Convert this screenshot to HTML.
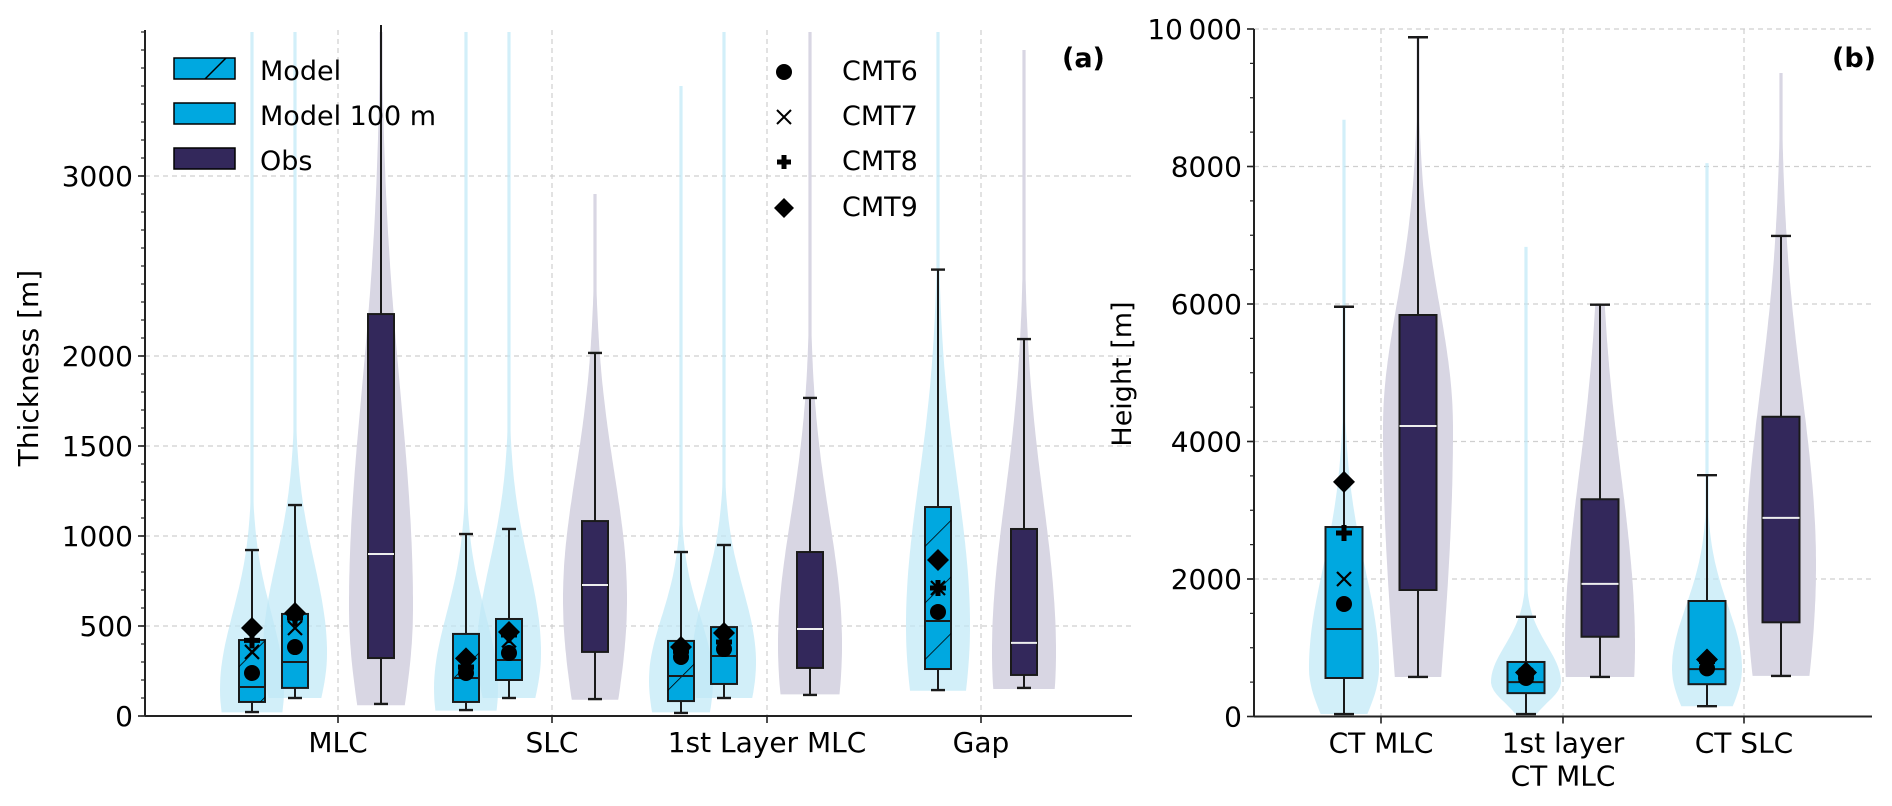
<!DOCTYPE html>
<html><head><meta charset="utf-8"><style>
html,body{margin:0;padding:0;background:#fff}
svg{display:block;font-family:"DejaVu Sans","Liberation Sans",sans-serif}
</style></head><body>
<svg id="chart" width="1892" height="806" viewBox="0 0 1892 806" xmlns="http://www.w3.org/2000/svg">
<defs>
<pattern id="hatch" patternUnits="userSpaceOnUse" width="40" height="40" patternTransform="rotate(45)">
<line x1="0" y1="0" x2="0" y2="40" stroke="#000" stroke-width="1.6"/>
</pattern>
</defs>
<g id="gridA"></g>
<g id="gridB"></g>
<g id="plotA"></g>
<g id="plotB"></g>
<g id="axes"></g>
<text x="38" y="368" font-size="28" text-anchor="middle" transform="rotate(-90 38 368)">Thickness [m]</text>
<text x="1131" y="374" font-size="27" text-anchor="middle" transform="rotate(-90 1131 374)">Height [m]</text>
<text x="1062" y="67" font-size="27" font-weight="bold">(a)</text>
<text x="1832" y="67" font-size="27" font-weight="bold">(b)</text>
<g font-size="27">
<g><rect x="174" y="58" width="61" height="21" fill="#00a8e0" stroke="#000" stroke-width="1.5"/><line x1="205" y1="79" x2="226" y2="58" stroke="#000" stroke-width="1.5"/><text x="260" y="80">Model</text></g>
<g><rect x="174" y="103" width="61" height="21" fill="#00a8e0" stroke="#000" stroke-width="1.5"/><text x="260" y="125">Model 100 m</text></g>
<g><rect x="174" y="148" width="61" height="21" fill="#33285b" stroke="#000" stroke-width="1.5"/><text x="260" y="170">Obs</text></g>
<g><circle cx="784" cy="72" r="8"/><text x="842" y="80">CMT6</text></g>
<g><path d="M777 110 L791 124 M791 110 L777 124" stroke="#000" stroke-width="2"/><text x="842" y="125">CMT7</text></g>
<g><path d="M784 155 V169 M777 162 H791" stroke="#000" stroke-width="5"/><text x="842" y="170">CMT8</text></g>
<g><path d="M784 198 L794 208 L784 218 L774 208 Z"/><text x="842" y="216">CMT9</text></g>
</g>
</svg>
<script>
// ---------- Panel (a) data ----------
const aCategories = ["MLC","SLC","1st Layer MLC","Gap"];
const aYTicks = [0,500,1000,1500,2000,3000];
const aBoxGroup = [0,0,0,1,1,1,2,2,2,3,3];
const aBoxSeries = ["model","m100","obs","model","m100","obs","model","m100","obs","model","obs"];
const aBoxSlot = [-2,-1,1,-2,-1,1,-2,-1,1,-1,1];
const aLo  = [22,100,67,33,100,94,17,100,117,144,156];
const aQ1  = [78,156,322,78,200,356,83,178,267,261,228];
const aMed = [161,300,900,211,311,728,222,333,483,528,406];
const aQ3  = [422,567,2233,456,539,1083,417,494,911,1161,1039];
const aHi  = [922,1172,4200,1011,1039,2017,911,950,1767,2480,2094];
const aVMin = [20,100,60,30,100,90,20,100,120,140,150];
const aVMax = [3800,3800,3800,3800,3800,2900,3500,3800,3800,3800,3700];
const aVPeak = [150,350,600,150,350,650,200,300,400,500,350];
const aVSdLow = [400,400,700,400,400,700,400,400,700,700,700];
const aVSdHigh = [420,500,1200,420,500,700,350,400,700,800,850];
const aCmt6 = [239,383,null,239,350,null,328,372,null,578,null];
const aCmt7 = [356,489,null,290,420,null,350,420,null,711,null];
const aCmt8 = [420,544,null,272,450,null,360,411,null,711,null];
const aCmt9 = [489,572,null,320,467,null,383,461,null,867,null];
// ---------- Panel (b) data ----------
const bCategories = [["CT MLC"],["1st layer","CT MLC"],["CT SLC"]];
const bYTicks = [0,2000,4000,6000,8000,10000];
const bYTickLabels = ["0","2000","4000","6000","8000","10\u2009000"];
const bBoxGroup = [0,0,1,1,2,2];
const bBoxSeries = ["m100","obs","m100","obs","m100","obs"];
const bBoxSlot = [-1,1,-1,1,-1,1];
const bLo  = [36,575,36,575,150,590];
const bQ1  = [560,1840,340,1160,470,1370];
const bMed = [1273,4225,500,1930,690,2890];
const bQ3  = [2756,5840,793,3160,1680,4360];
const bHi  = [5960,9880,1450,5990,3510,6990];
const bVMin = [36,575,36,575,150,590];
const bVMax = [8680,9900,6830,6000,8050,9360];
const bVPeak = [700,4200,500,1000,700,2200];
const bVSdLow = [740,4000,300,2000,700,2500];
const bVSdHigh = [1450,1800,530,2500,900,2500];
const bCmt6 = [1636,null,560,null,700,null];
const bCmt7 = [2000,null,600,null,780,null];
const bCmt8 = [2670,null,620,null,800,null];
const bCmt9 = [3412,null,640,null,830,null];

const NS="http://www.w3.org/2000/svg";
function mk(tag, attrs, parent){const e=document.createElementNS(NS,tag);for(const k in attrs)e.setAttribute(k,attrs[k]);parent.appendChild(e);return e;}

const A={x0:145,x1:1132,y0:716,ticks:[338,552,767,981],slot:43,bw:26,cap:14,W:32,ys:v=>716-0.18*v,vmax:3811};
const B={x0:1254,x1:1872,y0:716.5,ticks:[1381,1563,1744],slot:37,bw:37,cap:20,W:35,ys:v=>716.5-0.06875*v,vmax:10000};
const axes=document.getElementById('axes');

function drawGrid(P,g,yt){
  yt.forEach(v=>{ if(v===0) return;
    const l=mk('line',{x1:P.x0,x2:P.x1,y1:P.ys(v),y2:P.ys(v),stroke:'#cfcfcf','stroke-width':1.2,'stroke-dasharray':'5,4'},g);
    
    
  });
  P.ticks.forEach(x=>{
    const l=mk('line',{x1:x,x2:x,y1:P.ys(P.vmax),y2:P.y0,stroke:'#cfcfcf','stroke-width':1.2,'stroke-dasharray':'5,4'},g);
    
    
  });
}
drawGrid(A,document.getElementById('gridA'),aYTicks);
drawGrid(B,document.getElementById('gridB'),bYTicks);

function violinPath(P,cx,vmin,vmax,peak,sl,sh){
  const n=120, L=[], R=[];
  for(let i=0;i<=n;i++){
    const v=vmin+(vmax-vmin)*i/n;
    const sd=v<peak?sl:sh;
    let w=P.W*Math.exp(-0.5*Math.pow((v-peak)/sd,2));
    if(w<1.6) w=1.6;
    const y=P.ys(Math.min(v,P.vmax));
    R.push((cx+w).toFixed(1)+','+y.toFixed(1));
    L.unshift((cx-w).toFixed(1)+','+y.toFixed(1));
  }
  return 'M'+R.join(' L')+' L'+L.join(' L')+'Z';
}

function drawPanel(P,g,d){
  const n=d.lo.length;
  for(let i=0;i<n;i++){
    const cx=P.ticks[d.group[i]]+d.slot[i]*P.slot;
    const obs=d.series[i]==='obs';
    const p=mk('path',{d:violinPath(P,cx,d.vmin[i],d.vmax[i],d.peak[i],d.sl[i],d.sh[i]),fill:obs?'#d8d6e3':'#bfe8f7','fill-opacity':obs?1:0.7},g);
    
    
  }
  for(let i=0;i<n;i++){
    const cx=P.ticks[d.group[i]]+d.slot[i]*P.slot;
    const obs=d.series[i]==='obs';
    const top=Math.max(P.ys(d.hi[i]),P.ys(P.vmax)-5);
    const w=mk('line',{x1:cx,x2:cx,y1:top,y2:P.ys(d.lo[i]),stroke:'#1a1a1a','stroke-width':2},g);
    
    
    if(d.hi[i]<P.vmax){
      const c1=mk('line',{x1:cx-P.cap/2,x2:cx+P.cap/2,y1:P.ys(d.hi[i]),y2:P.ys(d.hi[i]),stroke:'#1a1a1a','stroke-width':2.4},g);
      
      
    }
    const c2=mk('line',{x1:cx-P.cap/2,x2:cx+P.cap/2,y1:P.ys(d.lo[i]),y2:P.ys(d.lo[i]),stroke:'#1a1a1a','stroke-width':2.4},g);
    
    
    const y3=P.ys(d.q3[i]), y1=P.ys(d.q1[i]);
    const r=mk('rect',{x:cx-P.bw/2,y:y3,width:P.bw,height:y1-y3,fill:obs?'#33285b':'#00a8e0',stroke:'#1a1a1a','stroke-width':2},g);
    
    
    if(d.series[i]==='model'){
      const h=mk('rect',{x:cx-P.bw/2,y:y3,width:P.bw,height:y1-y3,fill:'url(#hatch)',stroke:'none'},g);
      
      
    }
    const m=mk('line',{x1:cx-P.bw/2,x2:cx+P.bw/2,y1:P.ys(d.med[i]),y2:P.ys(d.med[i]),stroke:obs?'#eeeeee':'#1a1a1a','stroke-width':2},g);
    
    
  }
  for(let i=0;i<n;i++){
    const cx=P.ticks[d.group[i]]+d.slot[i]*P.slot;
    if(d.c6[i]!=null){const e=mk('circle',{cx:cx,cy:P.ys(d.c6[i]),r:8},g);
      
      }
    if(d.c7[i]!=null){const y=P.ys(d.c7[i]);const e=mk('path',{d:`M${cx-7} ${y-7} L${cx+7} ${y+7} M${cx+7} ${y-7} L${cx-7} ${y+7}`,stroke:'#000','stroke-width':2.2},g);
      
      }
    if(d.c8[i]!=null){const y=P.ys(d.c8[i]);const e=mk('path',{d:`M${cx} ${y-8} V${y+8} M${cx-8} ${y} H${cx+8}`,stroke:'#000','stroke-width':5},g);
      
      }
    if(d.c9[i]!=null){const y=P.ys(d.c9[i]);const e=mk('path',{d:`M${cx} ${y-11} L${cx+11} ${y} L${cx} ${y+11} L${cx-11} ${y} Z`},g);
      
      }
  }
}
drawPanel(A,document.getElementById('plotA'),{group:aBoxGroup,series:aBoxSeries,slot:aBoxSlot,lo:aLo,q1:aQ1,med:aMed,q3:aQ3,hi:aHi,vmin:aVMin,vmax:aVMax,peak:aVPeak,sl:aVSdLow,sh:aVSdHigh,c6:aCmt6,c7:aCmt7,c8:aCmt8,c9:aCmt9});
drawPanel(B,document.getElementById('plotB'),{group:bBoxGroup,series:bBoxSeries,slot:bBoxSlot,lo:bLo,q1:bQ1,med:bMed,q3:bQ3,hi:bHi,vmin:bVMin,vmax:bVMax,peak:bVPeak,sl:bVSdLow,sh:bVSdHigh,c6:bCmt6,c7:bCmt7,c8:bCmt8,c9:bCmt9});

function drawAxes(P,yt,ylabels,minorStep,cats){
  const ya=mk('line',{x1:P.x0,x2:P.x0,y1:P.ys(P.vmax),y2:P.y0,stroke:'#222','stroke-width':2},axes);
  
  
  const xa=mk('line',{x1:P.x0,x2:P.x1,y1:P.y0,y2:P.y0,stroke:'#222','stroke-width':2},axes);
  
  
  for(let v=0;v<=P.vmax;v+=minorStep){
    const l=mk('line',{x1:P.x0-4,x2:P.x0,y1:P.ys(v),y2:P.ys(v),stroke:'#222','stroke-width':1.2},axes);
    
    
  }
  yt.forEach((v,i)=>{
    const l=mk('line',{x1:P.x0-7,x2:P.x0,y1:P.ys(v),y2:P.ys(v),stroke:'#222','stroke-width':1.6},axes);
    
    
    const t=mk('text',{x:P.x0-12,y:P.ys(v)+10,'font-size':28,'text-anchor':'end'},axes);
    t.textContent=ylabels[i];
    
    
  });
  P.ticks.forEach((x,i)=>{
    const l=mk('line',{x1:x,x2:x,y1:P.y0,y2:P.y0+7,stroke:'#222','stroke-width':1.6},axes);
    
    
    const lines=Array.isArray(cats[i])?cats[i]:[cats[i]];
    lines.forEach((s,j)=>{
      const t=mk('text',{x:x,y:P.y0+36+j*33,'font-size':28,'text-anchor':'middle'},axes);
      t.textContent=s;
      
      
    });
  });
}
drawAxes(A,aYTicks,aYTicks.map(String),100,aCategories);
drawAxes(B,bYTicks,bYTickLabels,500,bCategories);
</script>
</body></html>
